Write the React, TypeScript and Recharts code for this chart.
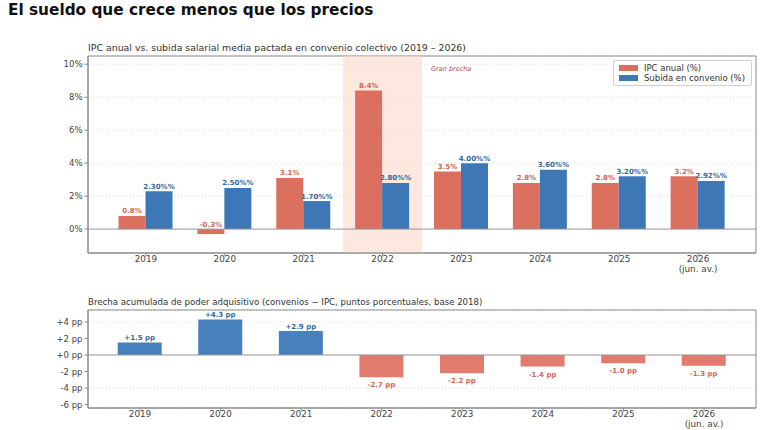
import React from 'react';
import {
  BarChart, Bar, XAxis, YAxis, CartesianGrid, ReferenceLine, ReferenceArea,
  Legend, LabelList, Cell,
} from 'recharts';

const years = ['2019', '2020', '2021', '2022', '2023', '2024', '2025', '2026'];
const yearLabels = ['2019', '2020', '2021', '2022', '2023', '2024', '2025', '2026\n(jun. av.)'];
const ipcAnual = [0.8, -0.3, 3.1, 8.4, 3.5, 2.8, 2.8, 3.2];
const subidaConvenio = [2.3, 2.5, 1.7, 2.8, 4.0, 3.6, 3.2, 2.92];
const brechaAcumulada = [1.5, 4.3, 2.9, -2.7, -2.2, -1.4, -1.0, -1.3];
const pctTicks = [0, 2, 4, 6, 8, 10];
const ppTicks = [-6, -4, -2, 0, 2, 4];
const highlightYear = '2022';

const topData = years.map((y, i) => ({ year: y, ipc: ipcAnual[i], conv: subidaConvenio[i] }));
const bottomData = years.map((y, i) => ({ year: y, brecha: brechaAcumulada[i] }));

const RED = '#dc705f';
const BLUE = '#3e77b6';
const RED_TXT = '#d46555';
const BLUE_TXT = '#35689f';
const FRAME = '#8a8a8a';
const FONT = 'DejaVu Sans, sans-serif';

const YearTick = (props: any) => {
  const { x, y, payload } = props;
  const idx = years.indexOf(payload.value);
  const lines = (yearLabels[idx] || payload.value).split('\n');
  return (
    <text x={x} y={y} textAnchor="middle" fontFamily={FONT} fontSize={8.8} fill="#444">
      {lines.map((l: string, i: number) => (
        <tspan key={i} x={x} dy={i === 0 ? 3.8 : 9.5}>{l}</tspan>
      ))}
    </text>
  );
};

const topLabel = (color: string, fmt: (v: number) => string) => (props: any) => {
  const { x, y, width, height, value } = props;
  const top = Math.min(y, y + height);
  return (
    <text x={x + width / 2} y={top - 2.5} textAnchor="middle" fontFamily={FONT}
      fontSize={7} fontWeight="bold" fill={color}>{fmt(value)}</text>
  );
};

const brechaLabel = (props: any) => {
  const { x, y, width, height, value } = props;
  const top = Math.min(y, y + height);
  const bottom = Math.max(y, y + height);
  const pos = value >= 0;
  const txt = (pos ? '+' : '') + value.toFixed(1) + ' pp';
  return (
    <text x={x + width / 2} y={pos ? top - 2.5 : bottom + 10} textAnchor="middle"
      fontFamily={FONT} fontSize={7} fontWeight="bold" fill={pos ? BLUE_TXT : RED_TXT}>{txt}</text>
  );
};

const LegendBox = (props: any) => {
  const { payload } = props;
  return (
    <div style={{
      border: '1px solid #d0d0d0', borderRadius: 2, background: 'rgba(255,255,255,0.9)',
      padding: '2px 6px 2px 5px', fontFamily: FONT, fontSize: 8.5, color: '#333', lineHeight: '10px',
    }}>
      {payload.map((p: any, i: number) => (
        <div key={i} style={{ display: 'flex', alignItems: 'center' }}>
          <span style={{ display: 'inline-block', width: 19, height: 6, background: p.color, marginRight: 6 }} />
          <span>{p.value}</span>
        </div>
      ))}
    </div>
  );
};

const GranBrecha = (props: any) => {
  const vb = props.viewBox;
  return (
    <text x={vb.x + vb.width + 9} y={vb.y + 15} fontFamily={FONT} fontSize={6.5}
      fontStyle="italic" fill="#b5473a">Gran brecha</text>
  );
};

const frameH = ({ offset }: any) => [offset.top, offset.top + offset.height];
const frameV = ({ offset }: any) => [offset.left, offset.left + offset.width];

export default function App() {
  return (
    <div style={{ position: 'absolute', left: 0, top: 0, width: 768, height: 430, background: '#fff', overflow: 'hidden' }}>
      <div style={{ position: 'absolute', left: 8, top: 1, fontFamily: FONT, fontWeight: 'bold', fontSize: 15.3, color: '#111', whiteSpace: 'nowrap' }}>
        El sueldo que crece menos que los precios
      </div>
      <div style={{ position: 'absolute', left: 88, top: 41.5, fontFamily: FONT, fontSize: 9.4, color: '#333', whiteSpace: 'nowrap' }}>
        IPC anual vs. subida salarial media pactada en convenio colectivo (2019 – 2026)
      </div>
      <div style={{ position: 'absolute', left: 88, top: 297, fontFamily: FONT, fontSize: 8.6, color: '#333', whiteSpace: 'nowrap' }}>
        Brecha acumulada de poder adquisitivo (convenios − IPC, puntos porcentuales, base 2018)
      </div>

      <div style={{ position: 'absolute', left: 0, top: 0 }}>
        <BarChart width={768} height={290} data={topData} margin={{ top: 56, right: 12, bottom: 0, left: 0 }}
          barGap={0}>
          <ReferenceArea x1={highlightYear} x2={highlightYear} fill="#fbd9cb" fillOpacity={0.6}
            stroke="none" label={<GranBrecha />} />
          <CartesianGrid vertical={false} stroke="#dddddd" strokeDasharray="1 2" />
          <CartesianGrid stroke={FRAME} fill="none" horizontalCoordinatesGenerator={frameH}
            verticalCoordinatesGenerator={frameV} syncWithTicks={false} />
          <XAxis dataKey="year" padding={{ left: 18.5, right: 18.5 }} height={37}
            tick={<YearTick />} tickLine={{ stroke: FRAME }} tickSize={3.5}
            axisLine={{ stroke: FRAME }} interval={0} />
          <YAxis domain={[-1.45, 10.5]} ticks={pctTicks} width={88} tickSize={3.5} tickMargin={2}
            tickFormatter={(v: number) => `${v}%`} allowDataOverflow
            tick={{ fontFamily: FONT, fontSize: 8.5, fill: '#444' }}
            tickLine={{ stroke: FRAME }} axisLine={{ stroke: FRAME }} />
          <ReferenceLine y={0} stroke="#999" strokeWidth={1} />
          <Legend verticalAlign="middle" align="center" layout="horizontal" content={<LegendBox />}
            wrapperStyle={{ top: 60, right: 16, left: 'auto', bottom: 'auto', width: 'auto' }} />
          <Bar dataKey="ipc" name="IPC anual (%)" fill={RED} barSize={27} isAnimationActive={false}>
            <LabelList dataKey="ipc" content={topLabel(RED_TXT, (v) => `${v.toFixed(1)}%`)} />
          </Bar>
          <Bar dataKey="conv" name="Subida en convenio (%)" fill={BLUE} barSize={27} isAnimationActive={false}>
            <LabelList dataKey="conv" content={topLabel(BLUE_TXT, (v) => `${v.toFixed(2)}%%`)} />
          </Bar>
        </BarChart>
      </div>

      <div style={{ position: 'absolute', left: 0, top: 290 }}>
        <BarChart width={768} height={140} data={bottomData} margin={{ top: 20, right: 12, bottom: 0, left: 0 }}>
          <CartesianGrid vertical={false} stroke="#dddddd" strokeDasharray="1 2" />
          <CartesianGrid stroke={FRAME} fill="none" horizontalCoordinatesGenerator={frameH}
            verticalCoordinatesGenerator={frameV} syncWithTicks={false} />
          <XAxis dataKey="year" padding={{ left: 11.7, right: 11.7 }} height={22}
            tick={<YearTick />} tickLine={{ stroke: FRAME }} tickSize={3.5}
            axisLine={{ stroke: FRAME }} interval={0} />
          <YAxis domain={[-6.42, 5.45]} ticks={ppTicks} width={88} tickSize={3.5} tickMargin={2}
            tickFormatter={(v: number) => `${v >= 0 ? '+' : ''}${v} pp`} allowDataOverflow
            tick={{ fontFamily: FONT, fontSize: 8.5, fill: '#444' }}
            tickLine={{ stroke: FRAME }} axisLine={{ stroke: FRAME }} />
          <ReferenceLine y={0} stroke="#999" strokeWidth={1} />
          <Bar dataKey="brecha" barSize={44} isAnimationActive={false}>
            {bottomData.map((d, i) => (
              <Cell key={i} fill={d.brecha >= 0 ? '#4680bd' : '#e07b6d'} />
            ))}
            <LabelList dataKey="brecha" content={brechaLabel} />
          </Bar>
        </BarChart>
      </div>
    </div>
  );
}
